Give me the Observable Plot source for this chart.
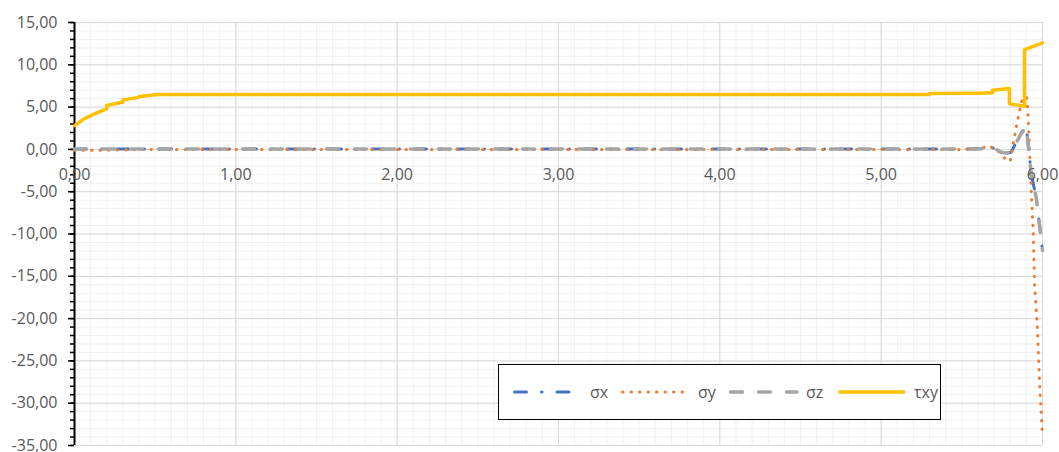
<!DOCTYPE html>
<html><head><meta charset="utf-8">
<script src="https://cdn.jsdelivr.net/npm/d3@7"></script>
<script src="https://cdn.jsdelivr.net/npm/@observablehq/plot@0.6"></script>
<style>
body{margin:0;background:#fff;font-family:"Open Sans",sans-serif;}
#wrap{position:relative;width:1059px;height:452px;overflow:hidden;}
#legend{position:absolute;left:498px;top:364px;width:443px;height:56px;border:1.5px solid #000;background:#fff;box-sizing:border-box;}
</style></head><body><div id="wrap"><div id="chart"></div><div id="legend"></div></div>
<script>
// ---- data ----
const xMajor = [0, 1, 2, 3, 4, 5, 6];
const yMajor = [-35, -30, -25, -20, -15, -10, -5, 0, 5, 10, 15];
const xMinor = d3.range(0, 60.5, 1).map(d => d / 10);
const yMinor = d3.range(-35, 15.5, 1);

const seriesNames = ["σx", "σy", "σz", "τxy"];
const seriesColors = ["#4472C4", "#ED7D31", "#A5A5A5", "#FFC000"];

const sigmaX_x = [0, 0.5, 1, 1.5, 2, 2.5, 3, 3.5, 4, 4.5, 5, 5.5, 5.62, 5.662, 5.713, 5.744, 5.775, 5.806, 5.868, 5.899, 5.915, 5.93, 5.962, 5.993, 6.0];
const sigmaX_y = [0.05, 0.05, 0.05, 0.05, 0.05, 0.05, 0.05, 0.05, 0.05, 0.05, 0.05, 0.05, 0.07, 0.45, 0.0, -0.33, -0.45, -0.33, 2.0, 2.7, 0.0, -2.9, -5.8, -10.8, -12.0];

const sigmaY_x = [0, 0.2, 0.5, 1, 1.5, 2, 2.5, 3, 3.5, 4, 4.5, 5, 5.5, 5.62, 5.662, 5.72, 5.775, 5.80, 5.827, 5.837, 5.856, 5.879, 5.899, 5.91, 5.918, 5.93, 5.941, 5.951, 5.968, 5.982, 5.999];
const sigmaY_y = [-0.1, -0.1, 0.0, 0.0, 0.0, 0.0, 0.0, 0.0, 0.0, 0.0, 0.0, 0.0, 0.0, 0.07, 0.46, -0.1, -1.25, -1.4, 1.6, 2.6, 4.4, 6.4, 6.8, 4.4, 0.7, -4.9, -9.2, -16.0, -21.0, -27.7, -33.7];

const sigmaZ_x = [0, 0.5, 1, 1.5, 2, 2.5, 3, 3.5, 4, 4.5, 5, 5.5, 5.62, 5.662, 5.713, 5.744, 5.775, 5.806, 5.868, 5.899, 5.915, 5.93, 5.962, 5.993, 6.0];
const sigmaZ_y = [0.05, 0.05, 0.05, 0.05, 0.05, 0.05, 0.05, 0.05, 0.05, 0.05, 0.05, 0.05, 0.07, 0.46, 0.0, -0.33, -0.42, -0.33, 1.9, 2.7, 0.0, -2.9, -5.8, -10.8, -11.95];

const tau_x = [0, 0.05, 0.1, 0.15, 0.2, 0.2, 0.25, 0.3, 0.3, 0.35, 0.4, 0.4, 0.45, 0.5, 0.55, 1, 2, 3, 4, 5, 5.3, 5.3, 5.6, 5.69, 5.69, 5.795, 5.795, 5.888, 5.888, 6.0];
const tau_y = [2.8, 3.5, 4.0, 4.4, 4.8, 5.2, 5.4, 5.6, 5.85, 6.0, 6.15, 6.25, 6.35, 6.45, 6.5, 6.5, 6.5, 6.5, 6.5, 6.5, 6.5, 6.6, 6.65, 6.7, 7.0, 7.2, 5.4, 5.1, 11.8, 12.6];

// ---- build ----
const fmt = d => d.toFixed(2).replace(".", ",");
const toRows = (xs, ys) => xs.map((x, i) => ({x, y: ys[i]}));
const styles = [
  {stroke: seriesColors[0], strokeWidth: 3, strokeDasharray: "12,15,0.5,15", strokeLinecap: "round", strokeLinejoin: "round"},
  {stroke: seriesColors[1], strokeWidth: 3, strokeDasharray: "0.5,8", strokeLinecap: "round", strokeLinejoin: "round"},
  {stroke: seriesColors[2], strokeWidth: 3.5, strokeDasharray: "12,16", strokeLinecap: "round", strokeLinejoin: "round"},
  {stroke: seriesColors[3], strokeWidth: 3.5, strokeLinejoin: "round"}
];
const data = [toRows(sigmaX_x, sigmaX_y), toRows(sigmaY_x, sigmaY_y), toRows(sigmaZ_x, sigmaZ_y), toRows(tau_x, tau_y)];

const chart = Plot.plot({
  width: 1059, height: 452,
  marginLeft: 74, marginRight: 17, marginTop: 22, marginBottom: 7,
  x: {domain: [0, 6], axis: null},
  y: {domain: [-35, 15], label: null},
  style: {fontFamily: "Open Sans", fontSize: "16px", color: "#595959", background: "#fff"},
  marks: [
    Plot.ruleX(xMinor, {stroke: "#F0F0F0", strokeWidth: 1}),
    Plot.ruleY(yMinor, {stroke: "#F0F0F0", strokeWidth: 1}),
    Plot.ruleX(xMajor, {stroke: "#D9D9D9", strokeWidth: 1}),
    Plot.ruleY(yMajor, {stroke: "#D9D9D9", strokeWidth: 1}),
    Plot.axisY(yMinor, {tickSize: 4, text: null, label: null, stroke: "#000", strokeWidth: 1.5}),
    Plot.axisY(yMajor, {tickSize: 6, tickPadding: 11, tickFormat: fmt, label: null, stroke: "#000", strokeWidth: 1.5, fill: "#595959", fontSize: 16}),
    Plot.ruleX([0], {stroke: "#000", strokeWidth: 2}),
    ...data.map((rows, i) => Plot.line(rows, {x: "x", y: "y", ...styles[i]})),
    Plot.text(xMajor, {x: d => d, y: 0, text: fmt, dy: 25, fill: "#595959", fontSize: 16})
  ]
});
document.getElementById("chart").appendChild(chart);

// ---- legend ----
const lg = d3.select("#legend").append("svg").attr("width", 440).attr("height", 53)
  .style("font-family", "Open Sans").style("font-size", "16px");
const legendX = [14, 122, 230, 338];
seriesNames.forEach((name, i) => {
  const g = lg.append("g");
  const s = styles[i];
  g.append("line").attr("x1", legendX[i] + 1.5).attr("x2", legendX[i] + 68).attr("y1", 27).attr("y2", 27)
    .attr("stroke", s.stroke).attr("stroke-width", s.strokeWidth)
    .attr("stroke-dasharray", s.strokeDasharray || null)
    .attr("stroke-linecap", s.strokeLinecap || "butt");
  g.append("text").attr("x", legendX[i] + 77).attr("y", 27).attr("dy", "0.35em")
    .attr("fill", "#595959").text(name);
});
</script>
</body></html>
